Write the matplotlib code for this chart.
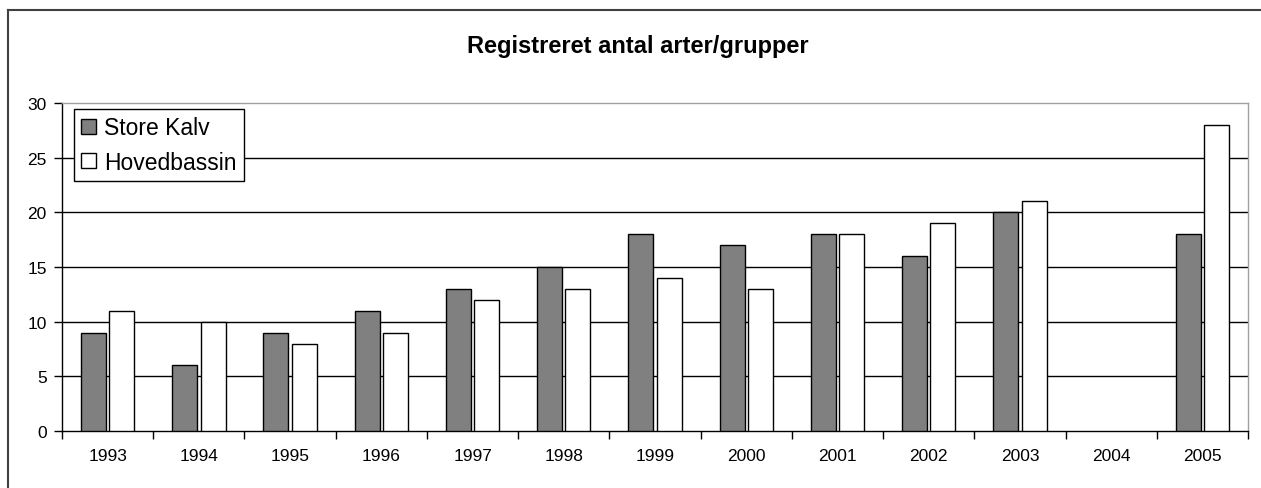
import numpy as np
import matplotlib.pyplot as plt
from matplotlib.lines import Line2D

years = ['1993', '1994', '1995', '1996', '1997', '1998', '1999',
         '2000', '2001', '2002', '2003', '2004', '2005']
store_kalv = [9, 6, 9, 11, 13, 15, 18, 17, 18, 16, 20, np.nan, 18]
hovedbassin = [11, 10, 8, 9, 12, 13, 14, 13, 18, 19, 21, np.nan, 28]
yticks = [0, 5, 10, 15, 20, 25, 30]

plt.rcParams['font.family'] = ['Liberation Sans', 'DejaVu Sans']

fig = plt.figure(figsize=(12.61, 4.89), dpi=100)
ax = fig.add_axes([0.0492, 0.1166, 0.9405, 0.6708])

x = np.arange(len(years))
w = 0.274
ax.bar(x - 0.155, store_kalv, w, color='#808080', edgecolor='black',
       linewidth=1, label='Store Kalv', zorder=3)
ax.bar(x + 0.155, hovedbassin, w, color='white', edgecolor='black',
       linewidth=1, label='Hovedbassin', zorder=3)

ax.set_xlim(-0.5, len(years) - 0.5)
ax.set_ylim(0, 30)
ax.set_yticks(yticks)
ax.set_yticklabels([str(v) for v in yticks], fontsize=12.5)
ax.set_xticks(x)
ax.set_xticklabels(years, fontsize=12.5)
ax.set_xticks(np.arange(-0.5, len(years)), minor=True)
ax.tick_params(axis='x', which='major', length=0, pad=12)
ax.tick_params(axis='x', which='minor', length=6, width=1, direction='out')
ax.tick_params(axis='y', length=6, width=1, direction='out', pad=5)

for v in yticks[1:-1]:
    ax.axhline(v, color='black', linewidth=1, zorder=1)

ax.spines['top'].set_color('#a0a0a0')
ax.spines['right'].set_color('#a0a0a0')
for s in ax.spines.values():
    s.set_linewidth(1)

leg = ax.legend(loc='upper left', bbox_to_anchor=(0.0101, 0.982),
                fontsize=16.5, frameon=True, fancybox=False, edgecolor='black',
                framealpha=1, handlelength=0.65, handleheight=0.65,
                handletextpad=0.35, borderpad=0.32, labelspacing=0.5,
                borderaxespad=0)
leg.get_frame().set_linewidth(1)

fig.text(0.506, 0.905, 'Registreret antal arter/grupper', ha='center',
         va='center', fontsize=17, fontweight='bold')

# outer chart frame (cut off at bottom and right)
fig.add_artist(Line2D([8 / 1261, 8 / 1261], [0, 1 - 11 / 489],
                      transform=fig.transFigure, color='#404040', linewidth=1.5))
fig.add_artist(Line2D([8 / 1261, 1], [1 - 11 / 489, 1 - 11 / 489],
                      transform=fig.transFigure, color='#404040', linewidth=1.5))

fig.savefig('out.png', dpi=100)
